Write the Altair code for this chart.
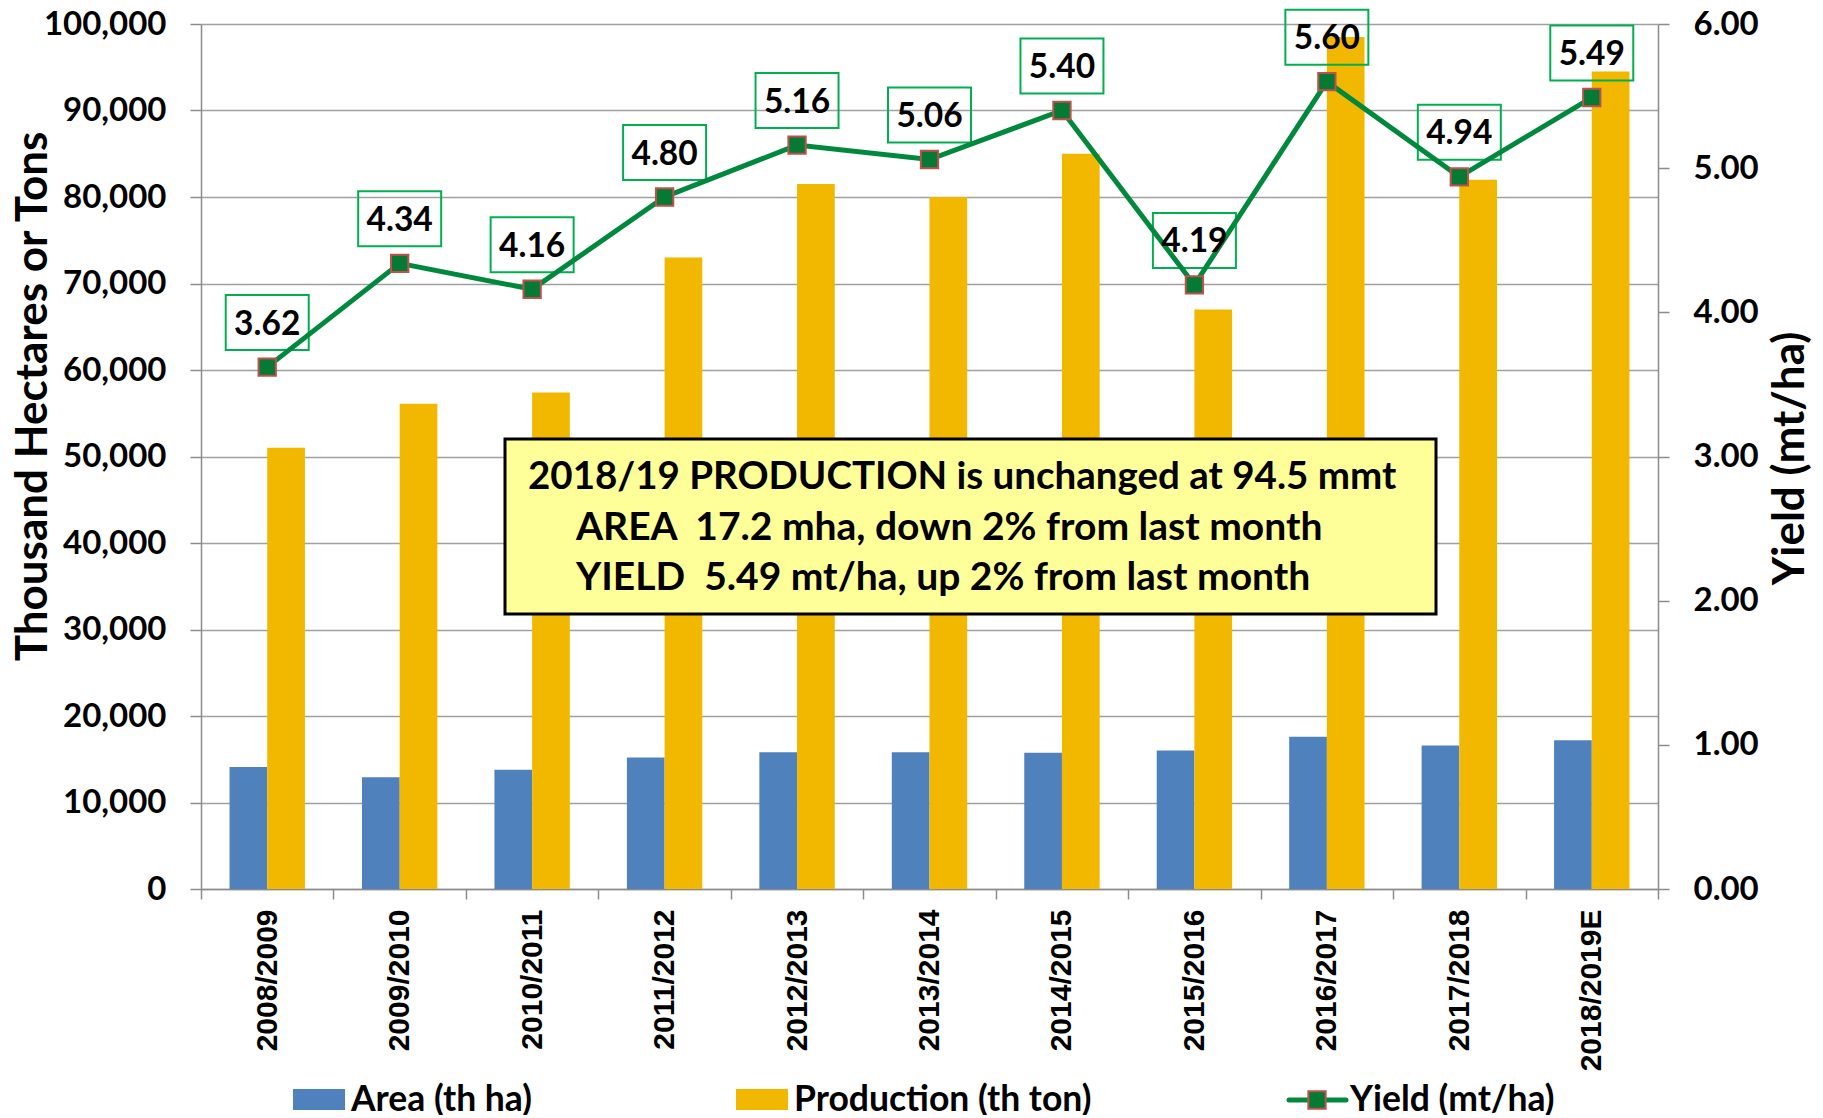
import altair as alt
import pandas as pd

# ---------------- data ----------------
seasons = ["2008/2009", "2009/2010", "2010/2011", "2011/2012", "2012/2013",
           "2013/2014", "2014/2015", "2015/2016", "2016/2017", "2017/2018",
           "2018/2019E"]
area = [14100, 12930, 13800, 15200, 15800, 15800, 15750, 16000, 17600, 16600, 17200]
production = [51000, 56100, 57400, 73000, 81500, 80000, 85000, 67000, 98500, 82000, 94500]
yields = [3.62, 4.34, 4.16, 4.80, 5.16, 5.06, 5.40, 4.19, 5.60, 4.94, 5.49]

bar_keys = ["Area (th ha)", "Production (th ton)"]
left_ticks = list(range(0, 100001, 10000))
right_ticks = [0, 1, 2, 3, 4, 5, 6]

note_lines = [
    "2018/19 PRODUCTION is unchanged at 94.5 mmt",
    "AREA\u00a0 17.2 mha, down 2% from last month",
    "YIELD\u00a0 5.49 mt/ha, up 2% from last month",
]

# ---------------- styles ----------------
FONT = "Lato"
XFONT = "Liberation Sans"
BLUE = "#4F81BD"
YELLOW = "#F2B800"
LINE_GREEN = "#00893D"
MARK_GREEN = "#047A35"
MARK_EDGE = "#C0504D"
BOX_GREEN = "#00B050"
GRID = "#A0A0A0"
AXIS = "#8C8C8C"

long_rows = []
for s, a, p in zip(seasons, area, production):
    long_rows.append({"season": s, "key": bar_keys[0], "value": a})
    long_rows.append({"season": s, "key": bar_keys[1], "value": p})
df_long = pd.DataFrame(long_rows)
df_yield = pd.DataFrame({"season": seasons, "yield": yields})

x_axis = alt.Axis(
    title=None, labelAngle=270, labelFont=XFONT, labelFontSize=30,
    labelFontWeight="bold", labelColor="black", tickBand="extent",
    tickSize=10, tickColor=AXIS, tickWidth=1.5, domainColor=AXIS,
    domainWidth=1.5, labelPadding=10, grid=False,
)
X = alt.X("season:N", sort=seasons, axis=x_axis,
          scale=alt.Scale(paddingInner=0, paddingOuter=0))

left_axis = alt.Axis(
    values=left_ticks, format=",d", title="Thousand Hectares or Tons",
    titleFont=FONT, titleFontSize=44, titleFontWeight="bold", titleColor="black",
    titleAngle=270, titleX=-155, titleY=372, titleAlign="center",
    titleBaseline="alphabetic",
    labelFont=FONT, labelFontSize=33, labelFontWeight="bold", labelColor="black",
    labelPadding=24, tickSize=11, tickColor=AXIS, tickWidth=1.5,
    domainColor=AXIS, domainWidth=1.5,
    grid=True, gridColor=GRID, gridWidth=1.5,
)
right_axis = alt.Axis(
    orient="right", values=right_ticks, format=".2f", title="Yield (mt/ha)",
    titleFont=FONT, titleFontSize=44, titleFontWeight="bold", titleColor="black",
    titleAngle=270, titleX=145, titleY=434, titleAlign="center",
    titleBaseline="alphabetic",
    labelFont=FONT, labelFontSize=33, labelFontWeight="bold", labelColor="black",
    labelPadding=24, tickSize=11, tickColor=AXIS, tickWidth=1.5,
    domainColor=AXIS, domainWidth=1.5, grid=False,
)

bars = alt.Chart(df_long).mark_bar().encode(
    x=X,
    xOffset=alt.XOffset("key:N", sort=bar_keys,
                        scale=alt.Scale(paddingInner=0, paddingOuter=0.757)),
    y=alt.Y("value:Q", scale=alt.Scale(domain=[0, 100000], nice=False), axis=left_axis),
    color=alt.Color("key:N", scale=alt.Scale(domain=bar_keys, range=[BLUE, YELLOW]),
                    legend=None),
)

Y2 = alt.Y("yield:Q", scale=alt.Scale(domain=[0, 6], nice=False), axis=right_axis)
ybase = alt.Chart(df_yield).encode(x=X, y=Y2)

BOX_PATH = "M-1.509,-1L1.509,-1L1.509,1L-1.509,1Z"
boxes = ybase.mark_point(shape=BOX_PATH, size=3025, filled=False, stroke=BOX_GREEN,
                         strokeWidth=2, opacity=1, yOffset=-44.5)
line = ybase.mark_line(color=LINE_GREEN, strokeWidth=5)
pts = ybase.mark_square(size=300, color=MARK_GREEN, stroke=MARK_EDGE,
                        strokeWidth=2, opacity=1)
labels = ybase.mark_text(font=FONT, fontSize=33.5, fontWeight="bold", color="black",
                         baseline="alphabetic", dy=-32.5).encode(
    text=alt.Text("yield:Q", format=".2f"))

yield_layer = alt.layer(boxes, line, pts, labels)

one = alt.Data(values=[{}])

note_box = alt.Chart(one).mark_rect(fill="#FFFF99", stroke="black", strokeWidth=3).encode(
    x=alt.value(304), x2=alt.value(1235), y=alt.value(415), y2=alt.value(590))
note_xs = [327, 375, 375]
note_ys = [453, 504, 554]
note_sizes = [38.5, 39, 39]
notes = [
    alt.Chart(one).mark_text(font=FONT, fontSize=fs, fontWeight="bold", color="black",
                             align="left", baseline="middle").encode(
        x=alt.value(nx), y=alt.value(ny), text=alt.value(t))
    for t, nx, ny, fs in zip(note_lines, note_xs, note_ys, note_sizes)
]

# manual legend
LEG_Y = 1076
leg_area_sq = alt.Chart(one).mark_rect(color=BLUE).encode(
    x=alt.value(92), x2=alt.value(144), y=alt.value(LEG_Y - 11), y2=alt.value(LEG_Y + 10))
leg_prod_sq = alt.Chart(one).mark_rect(color=YELLOW).encode(
    x=alt.value(535), x2=alt.value(587), y=alt.value(LEG_Y - 11), y2=alt.value(LEG_Y + 10))
leg_line = alt.Chart(one).mark_rule(color=LINE_GREEN, strokeWidth=5, strokeCap="round").encode(
    x=alt.value(1088), x2=alt.value(1145), y=alt.value(LEG_Y))
leg_pt = alt.Chart(one).mark_square(size=300, color=MARK_GREEN, stroke=MARK_EDGE,
                                    strokeWidth=2, opacity=1).encode(
    x=alt.value(1116), y=alt.value(LEG_Y))
leg_texts = [
    alt.Chart(one).mark_text(font=FONT, fontSize=35.5, fontWeight="bold", color="black",
                             align="left", baseline="middle").encode(
        x=alt.value(lx), y=alt.value(LEG_Y), text=alt.value(t))
    for t, lx in zip(["Area (th ha)", "Production (th ton)", "Yield (mt/ha)"],
                     [150, 593, 1149])
]

chart = alt.layer(
    bars, yield_layer, note_box, *notes,
    leg_area_sq, leg_prod_sq, leg_line, leg_pt, *leg_texts,
).resolve_scale(y="independent").properties(
    width=1457, height=865,
    autosize=alt.AutoSizeParams(type="none"),
    padding={"left": 193, "top": 16, "right": 157, "bottom": 226},
    background="white",
).configure_view(stroke=None)

chart.save("out.html", embed_options={"renderer": "svg", "actions": False})
